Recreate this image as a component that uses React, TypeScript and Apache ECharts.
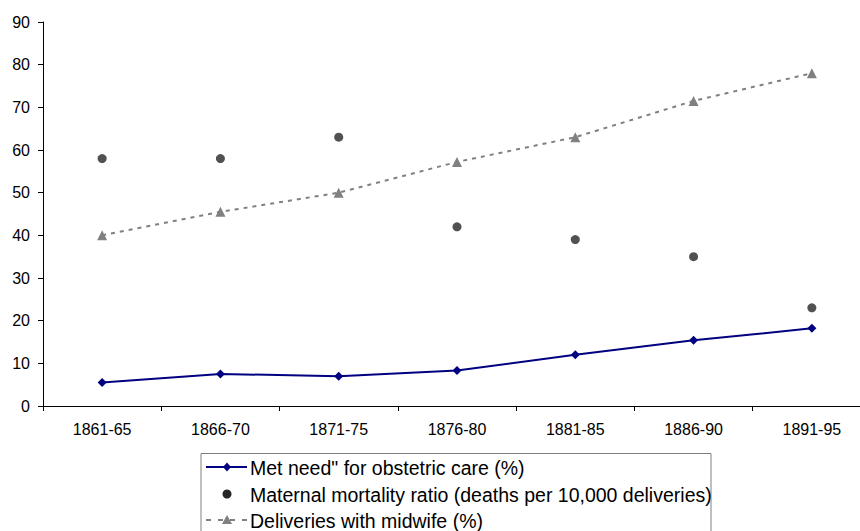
import React, { useEffect, useRef } from "react";
import * as echarts from "echarts";

const categories = ["1861-65", "1866-70", "1871-75", "1876-80", "1881-85", "1886-90", "1891-95"];
const metNeed = [5.5, 7.5, 7, 8.3, 12, 15.4, 18.2];
const maternalMortality = [58, 58, 63, 42, 39, 35, 23];
const midwife = [40, 45.5, 50, 57.2, 63, 71.5, 78];
const seriesNames = [
  'Met need" for obstetric care (%)',
  "Maternal mortality ratio (deaths per 10,000 deliveries)",
  "Deliveries with midwife (%)",
];

const FONT = "'Liberation Sans', Arial, sans-serif";

export default function App() {
  const ref = useRef<HTMLDivElement>(null);
  useEffect(() => {
    if (!ref.current) return;
    const chart = echarts.init(ref.current, undefined, { renderer: "svg" });
    const lx = 201;
    const rowY = [467, 494, 520];
    const iconL = 206;
    const iconR = 247;
    const iconC = 227;
    const textX = 250;
    chart.setOption({
      animation: false,
      backgroundColor: "#ffffff",
      textStyle: { fontFamily: FONT },
      grid: { left: 43, width: 828, top: 22, height: 384, outerBoundsMode: "none", containLabel: false },
      xAxis: {
        type: "category",
        data: categories,
        boundaryGap: true,
        axisLine: { lineStyle: { color: "#000", width: 1 } },
        axisTick: { show: true, length: 5, lineStyle: { color: "#000" }, alignWithLabel: false },
        axisLabel: { color: "#000", fontSize: 16, fontFamily: FONT, margin: 15 },
        splitLine: { show: false },
      },
      yAxis: {
        type: "value",
        min: 0,
        max: 90,
        interval: 10,
        axisLine: { show: true, lineStyle: { color: "#000", width: 1 } },
        axisTick: { show: true, length: 5, lineStyle: { color: "#000" } },
        axisLabel: { color: "#000", fontSize: 16, fontFamily: FONT, margin: 13 },
        splitLine: { show: false },
      },
      series: [
        {
          name: seriesNames[0],
          type: "line",
          data: metNeed,
          symbol: "diamond",
          symbolSize: 9,
          lineStyle: { color: "#000080", width: 2 },
          itemStyle: { color: "#000080" },
          z: 3,
        },
        {
          name: seriesNames[1],
          type: "scatter",
          data: maternalMortality,
          symbol: "circle",
          symbolSize: 9,
          itemStyle: { color: "#262626" },
        },
        {
          name: seriesNames[2],
          type: "line",
          data: midwife,
          symbol: "triangle",
          symbolSize: 10,
          lineStyle: { color: "#808080", width: 2, type: [4, 5] },
          itemStyle: { color: "#808080" },
        },
      ],
      graphic: [
        {
          type: "rect",
          shape: { x: lx, y: 453.5, width: 510, height: 90 },
          style: { fill: "#fff", stroke: "#808080", lineWidth: 1 },
          z: 10,
        },
        {
          type: "line",
          shape: { x1: iconL, y1: rowY[0], x2: iconR, y2: rowY[0] },
          style: { stroke: "#000080", lineWidth: 2 },
          z: 11,
        },
        {
          type: "polygon",
          shape: { points: [[iconC, rowY[0] - 4.5], [iconC + 4, rowY[0]], [iconC, rowY[0] + 4.5], [iconC - 4, rowY[0]]] },
          style: { fill: "#000080" },
          z: 12,
        },
        {
          type: "circle",
          shape: { cx: iconC, cy: rowY[1], r: 4.5 },
          style: { fill: "#262626" },
          z: 11,
        },
        {
          type: "line",
          shape: { x1: iconL, y1: rowY[2], x2: iconR, y2: rowY[2] },
          style: { stroke: "#808080", lineWidth: 2, lineDash: [5, 7] },
          z: 11,
        },
        {
          type: "polygon",
          shape: { points: [[iconC, rowY[2] - 5], [iconC + 5, rowY[2] + 4], [iconC - 5, rowY[2] + 4]] },
          style: { fill: "#808080" },
          z: 12,
        },
        ...seriesNames.map((name, i) => ({
          type: "text",
          x: textX,
          y: rowY[i] + 1,
          style: {
            text: name,
            fill: "#000",
            font: `19.5px ${FONT}`,
            textVerticalAlign: "middle",
            verticalAlign: "middle",
          },
          z: 12,
        })),
      ],
    });
    return () => chart.dispose();
  }, []);
  return <div ref={ref} style={{ width: 860, height: 531, position: "absolute", left: 0, top: 0 }} />;
}
